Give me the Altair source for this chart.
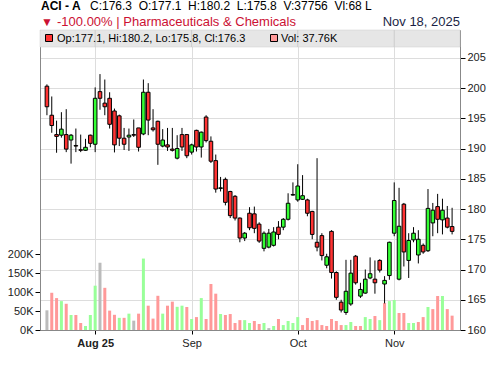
import altair as alt
import numpy as np
import pandas as pd

# Daily OHLC (BDT) and traded volume (thousands of shares), oldest first
opens = [200.3, 195.5, 192.3, 192.2, 192.3, 191.4, 190.5, 189.8, 189.7, 192.2,
         190.7, 199.4, 197.5, 198.3, 196.2, 195.4, 191.7, 191.9, 192.3, 193.4,
         192.4, 199.3, 193.4, 194.5, 190.4, 190.6, 189.9, 188.4, 192.3, 192.3,
         189.4, 193.0, 190.25, 195.2, 191.2, 188.0, 183.4, 184.9, 182.9, 182.1,
         178.5, 175.2, 179.3, 179.2, 177.5, 173.5, 173.7, 174.0, 177.0, 177.0,
         178.3, 182.3, 181.5, 181.6, 181.5, 179.6, 174.5, 175.6, 170.7, 176.3,
         169.5, 164.6, 162.9, 164.3, 172.2, 165.6, 166.1, 168.6, 168.4, 171.5,
         167.6, 169.0, 176.0, 168.4, 180.8, 171.5, 174.9, 172.4, 174.0, 173.1,
         177.7, 180.4, 178.2, 178.5, 177.1]
highs = [200.6, 198.6, 194.6, 196.0, 196.5, 192.4, 193.3, 192.3, 191.6, 192.3,
         200.1, 202.3, 201.4, 199.3, 196.6, 195.6, 193.4, 193.3, 194.8, 193.4,
         201.4, 200.8, 196.5, 194.6, 193.2, 193.4, 193.4, 192.2, 193.4, 192.4,
         190.8, 193.1, 192.8, 195.5, 192.0, 189.0, 185.3, 185.2, 183.0, 182.3,
         178.6, 176.2, 180.3, 180.4, 177.8, 176.3, 176.7, 177.0, 178.0, 178.5,
         182.6, 184.4, 187.4, 185.6, 181.7, 179.7, 188.4, 176.0, 172.6, 176.5,
         169.7, 165.0, 171.6, 171.6, 172.4, 167.8, 170.0, 172.0, 171.5, 171.7,
         168.9, 174.6, 184.4, 183.5, 181.0, 176.0, 177.0, 176.5, 174.3, 183.3,
         181.0, 182.5, 181.7, 180.5, 180.2]
lows = [195.5, 192.6, 189.3, 191.8, 189.4, 187.5, 189.4, 189.4, 189.6, 190.2,
        189.4, 196.4, 195.5, 193.3, 189.35, 190.4, 189.75, 189.6, 191.9, 189.5,
        192.2, 192.2, 192.8, 187.3, 190.2, 189.6, 189.5, 188.2, 189.6, 188.4,
        189.0, 189.5, 188.5, 191.0, 187.6, 182.7, 182.9, 180.6, 178.5, 178.1,
        174.5, 174.7, 176.5, 176.0, 174.4, 173.0, 173.5, 173.8, 175.0, 176.5,
        178.1, 182.2, 181.2, 181.5, 178.8, 175.0, 173.0, 171.5, 170.2, 168.5,
        165.0, 162.9, 162.5, 164.0, 167.5, 165.3, 166.0, 168.4, 166.0, 169.5,
        164.4, 168.3, 175.5, 168.2, 170.5, 168.6, 174.5, 171.0, 172.6, 172.9,
        175.5, 176.0, 175.8, 176.8, 175.8]
closes = [196.9, 193.8, 192.0, 193.2, 189.9, 192.2, 190.4, 189.7, 190.2, 190.85,
          198.3, 198.3, 196.9, 194.0, 190.6, 191.7, 190.7, 192.2, 192.2, 190.2,
          199.3, 194.7, 193.1, 190.7, 191.4, 190.25, 189.7, 190.0, 190.25, 188.8,
          190.6, 190.25, 192.7, 191.3, 187.9, 183.3, 183.5, 181.1, 178.9, 178.5,
          175.2, 176.0, 176.9, 176.8, 174.7, 176.0, 176.0, 176.2, 175.8, 178.3,
          180.95, 182.4, 183.8, 182.2, 179.3, 175.8, 173.7, 172.3, 172.1, 169.5,
          165.4, 163.3, 166.4, 169.4, 167.8, 166.7, 168.4, 169.3, 167.8, 169.9,
          168.2, 174.5, 181.4, 177.15, 172.9, 174.8, 176.0, 175.0, 172.9, 180.1,
          179.8, 178.3, 179.8, 177.0, 176.3]
volumes_k = [51.8, 98, 84, 76, 69, 39.5, 39.5, 18.4, 10.5, 39.5,
             116.6, 177, 111, 51, 40, 32, 32, 43, 24.6, 43,
             188, 64, 30, 90, 43, 64, 74.6, 61, 64, 60.5,
             29, 34, 84, 29, 121, 95.6, 42, 39.5, 42, 18.4,
             26, 26, 18.4, 23.7, 15.8, 18.4, 5, 10.5, 29, 13,
             23.7, 18.4, 34, 13, 31.6, 23.7, 26, 13, 10.5, 29,
             23.7, 13, 13, 21, 10.5, 10.5, 34, 29, 36.8, 26,
             71, 76, 79, 44.7, 44.7, 18.4, 18.4, 21, 34, 60.5,
             55, 89.5, 89.5, 55, 37.76]

# Session index of the first trading day of each month
month_ticks = [10, 30, 52, 72]
month_labels = ["Aug 25", "Sep", "Oct", "Nov"]
price_ticks = [160, 165, 170, 175, 180, 185, 190, 195, 200, 205]
volume_ticks = [0, 50000, 100000, 150000, 200000]

NBSP2 = "\u00a0\u00a0"
header_symbol = "ACI - A"
header_quote = NBSP2.join(["C:176.3", "O:177.1", "H:180.2", "L:175.8", "V:37756", "Vl:68 L"])
change_marker = "▼"
change_text = "-100.00% | Pharmaceuticals & Chemicals"
date_text = "Nov 18, 2025"
ohlc_legend = "Op:177.1, Hi:180.2, Lo:175.8, Cl:176.3"
vol_legend = "Vol: 37.76K"

n = len(closes)
df = pd.DataFrame({
    "idx": np.arange(n),
    "open": opens,
    "high": highs,
    "low": lows,
    "close": closes,
    "volume": np.array(volumes_k) * 1000,
})
df["body"] = np.where(df["close"] >= df["open"], "up", "down")
prev = df["close"].shift(1)
df["vdir"] = np.select([df["close"] > prev, df["close"] < prev], ["up", "down"], "flat")

W, H = 420, 300
FONT = "Liberation Sans"

label_expr = " : ".join(
    f"datum.value == {t} ? '{l}'" for t, l in zip(month_ticks, month_labels)
) + " : ''"

x_enc = alt.X(
    "idx:Q",
    scale=alt.Scale(domain=[-0.4, n - 0.4], nice=False, zero=False),
    axis=alt.Axis(
        values=month_ticks, labelExpr=label_expr, title=None,
        grid=True, gridColor="#dddddd", tickSize=4, tickColor="#000000",
        domainColor="#888888", labelFontSize=11, labelColor="#222222",
        labelFont=FONT, labelPadding=3,
        labelFontWeight={"condition": {"test": f"datum.value == {month_ticks[0]}",
                                       "value": "bold"}, "value": "normal"},
    ),
)

price_scale = alt.Scale(domain=[160, 160 + H / 6.05], nice=False, zero=False)
price_axis = alt.Axis(
    orient="right", values=price_ticks, title=None, grid=True, gridColor="#dddddd",
    tickSize=5, tickColor="#000000", domainColor="#888888", labelFontSize=11,
    labelColor="#222222", labelFont=FONT, labelPadding=2,
)

base = alt.Chart(df)

volume = base.mark_bar(size=3).encode(
    x=x_enc,
    y=alt.Y("volume:Q", scale=alt.Scale(domain=[0, H / 0.38 * 1000], nice=False),
            axis=alt.Axis(orient="left", values=volume_ticks, title=None, grid=False,
                          labelExpr="format(datum.value / 1000, 'd') + 'K'",
                          tickSize=5, tickColor="#000000", domainColor="#888888",
                          labelFontSize=11, labelColor="#222222", labelFont=FONT,
                          labelPadding=2)),
    color=alt.Color("vdir:N", legend=None,
                    scale=alt.Scale(domain=["up", "down", "flat"],
                                    range=["#99ff99", "#ff9999", "#bbbbbb"])),
)

wicks = base.mark_rule(color="#000000", strokeWidth=1).encode(
    x=x_enc,
    y=alt.Y("low:Q", scale=price_scale, axis=price_axis),
    y2="high:Q",
)

bodies = base.mark_bar(size=3.6, stroke="#000000", strokeWidth=1).encode(
    x=x_enc,
    y=alt.Y("open:Q", scale=price_scale, axis=price_axis),
    y2="close:Q",
    color=alt.Color("body:N", legend=None,
                    scale=alt.Scale(domain=["up", "down"], range=["#33ff33", "#ff3333"])),
)

candles = alt.layer(wicks, bodies)

one = pd.DataFrame({"k": [0]})
ann = alt.Chart(one)

strip = ann.mark_rect(fill="#e6e6e6", stroke="#cccccc", strokeWidth=0.5).encode(
    x=alt.value(0), x2=alt.value(W), y=alt.value(0), y2=alt.value(17))

strip_grid = alt.Chart(pd.DataFrame({"idx": month_ticks})).mark_rule(
    color="#cccccc").encode(x=x_enc, y=alt.value(0), y2=alt.value(17))

red_box = ann.mark_rect(fill="#ff3333", stroke="#000000", strokeWidth=1).encode(
    x=alt.value(5.5), x2=alt.value(12.5), y=alt.value(4.5), y2=alt.value(11.5))
pink_box = ann.mark_rect(fill="#ff9999", stroke="#000000", strokeWidth=1).encode(
    x=alt.value(230.5), x2=alt.value(237.5), y=alt.value(4.5), y2=alt.value(11.5))


def label(text, x, y, size, color, weight="normal", align="left"):
    return ann.mark_text(text=text, align=align, baseline="alphabetic", font=FONT,
                         fontSize=size, fontWeight=weight, color=color).encode(
        x=alt.value(x), y=alt.value(y))


texts = [
    label(header_symbol, 1, -19.6, 12, "#000000", "bold"),
    label(header_quote, 50, -19.6, 12, "#000000"),
    label(change_marker, 1, -3.6, 12, "#cc1133"),
    label(change_text, 17, -3.6, 13, "#cc1133"),
    label(date_text, W, -3.6, 13, "#1a1f45", align="right"),
    label(ohlc_legend, 17, 11.8, 11, "#000000"),
    label(vol_legend, 241, 11.8, 11, "#000000"),
]

chart = alt.layer(
    volume, candles, strip, strip_grid, red_box, pink_box, *texts
).resolve_scale(y="independent", color="independent").properties(
    width=W, height=H,
    padding={"left": 40, "top": 30, "right": 40, "bottom": 36},
    autosize=alt.AutoSizeParams(type="none"),
).configure_view(stroke="#aaaaaa")

chart.save("out.html", embed_options={"renderer": "svg", "actions": False})
